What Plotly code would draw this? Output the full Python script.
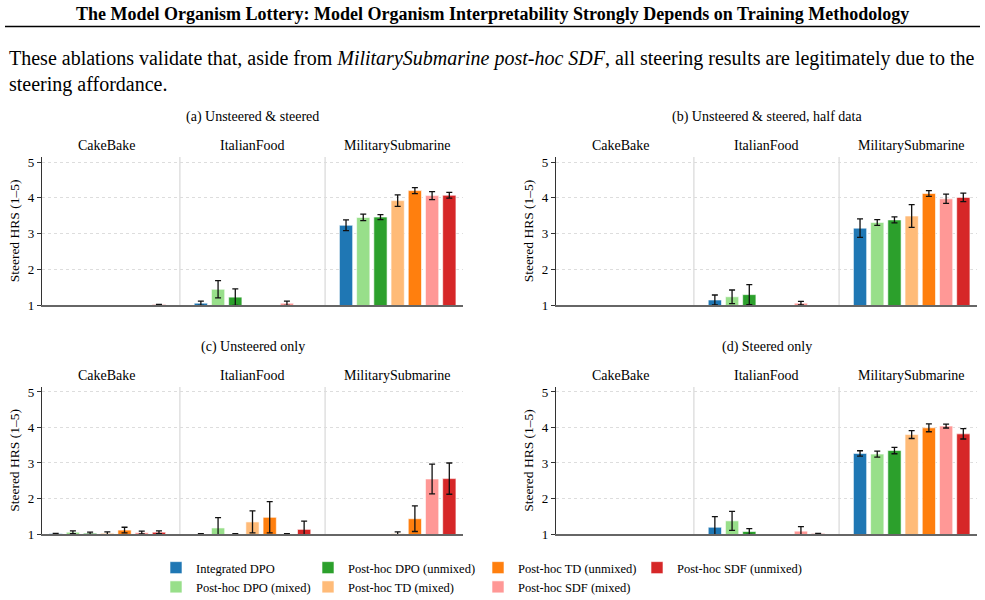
import plotly.graph_objects as go

groups = ["CakeBake", "ItalianFood", "MilitarySubmarine"]
methods = ["Integrated DPO", "Post-hoc DPO (mixed)", "Post-hoc DPO (unmixed)",
           "Post-hoc TD (mixed)", "Post-hoc TD (unmixed)",
           "Post-hoc SDF (mixed)", "Post-hoc SDF (unmixed)"]
colors = ["#1f77b4", "#98df8a", "#2ca02c", "#ffbb78", "#ff7f0e", "#ff9896", "#d62728"]
panel_titles = ["(a) Unsteered & steered", "(b) Unsteered & steered, half data",
                "(c) Unsteered only", "(d) Steered only"]
ytick_vals = [1, 2, 3, 4, 5]

# values per method: [CakeBake, ItalianFood, MilitarySubmarine]
a_vals = [[None, 1.05, 3.23], [None, 1.44, 3.45], [None, 1.22, 3.46], [None, None, 3.92],
          [None, None, 4.20], [None, 1.05, 4.06], [1.01, None, 4.07]]
a_errs = [[None, 0.06, 0.15], [None, 0.24, 0.09], [None, 0.23, 0.07], [None, None, 0.16],
          [None, None, 0.085], [None, 0.06, 0.11], [0.01, None, 0.08]]

b_vals = [[None, 1.14, 3.15], [None, 1.23, 3.31], [None, 1.29, 3.38], [None, None, 3.49],
          [None, None, 4.12], [None, 1.05, 3.97], [None, None, 4.01]]
b_errs = [[None, 0.14, 0.26], [None, 0.19, 0.08], [None, 0.28, 0.085], [None, None, 0.32],
          [None, None, 0.08], [None, 0.05, 0.13], [None, None, 0.12]]

c_vals = [[1.01, 1.0, None], [1.05, 1.17, None], [1.02, 1.0, None], [1.02, 1.34, 1.01],
          [1.11, 1.47, 1.43], [1.04, 1.0, 2.55], [1.05, 1.13, 2.56]]
c_errs = [[0.01, 0.01, None], [0.04, 0.29, None], [0.03, 0.01, None], [0.04, 0.31, 0.05],
          [0.08, 0.44, 0.36], [0.04, 0.01, 0.42], [0.04, 0.23, 0.44]]

d_vals = [[None, 1.19, 3.27], [None, 1.37, 3.25], [None, 1.07, 3.35], [None, None, 3.80],
          [None, None, 3.99], [None, 1.08, 4.04], [None, 1.01, 3.82]]
d_errs = [[None, 0.30, 0.075], [None, 0.27, 0.085], [None, 0.08, 0.09], [None, None, 0.11],
          [None, None, 0.11], [None, 0.13, 0.055], [None, 0.01, 0.145]]

panels_vals = [a_vals, b_vals, c_vals, d_vals]
panels_errs = [a_errs, b_errs, c_errs, d_errs]

W, H = 985, 600
FONT = "Liberation Serif, Times New Roman, serif"

def px_x(v):
    return v / W

def px_y(v):
    return 1 - v / H

# panel pixel boxes (left, right, top, bottom)
boxes = [(42, 463, 157, 305), (556, 977, 157, 305), (42, 463, 387, 534), (556, 977, 387, 534)]

fig = go.Figure()
layout = dict(
    width=W, height=H, margin=dict(l=0, r=0, t=0, b=0, autoexpand=False),
    paper_bgcolor="white", plot_bgcolor="white",
    font=dict(family=FONT, size=12, color="black"),
    barmode="group", bargap=0.17, bargroupgap=0.23,
)

legend_names = ["legend", "legend2", "legend3", "legend4"]
legend_of_method = ["legend", "legend", "legend2", "legend2", "legend3", "legend3", "legend4"]
legend_x = [156, 308, 478, 637]

annotations = []
shapes = []
for p in range(4):
    sfx = "" if p == 0 else str(p + 1)
    xa, ya = "x" + sfx, "y" + sfx
    l, r, t, b = boxes[p]
    for m in range(7):
        fig.add_trace(go.Bar(
            x=groups, y=panels_vals[p][m], name=methods[m],
            marker=dict(color=colors[m], line=dict(color="white", width=0.6)),
            error_y=dict(type="data", array=panels_errs[p][m], color="#111111",
                         thickness=1.3, width=3),
            xaxis=xa, yaxis=ya, showlegend=(p == 0), legendgroup=methods[m],
            legend=legend_of_method[m],
        ))
    layout["xaxis" + sfx] = dict(
        domain=[px_x(l), px_x(r)], anchor=ya, type="category",
        range=[-0.45, 2.45], showticklabels=False, ticks="", showgrid=False,
        showline=True, linecolor="#666666", linewidth=2, zeroline=False,
    )
    layout["yaxis" + sfx] = dict(
        domain=[px_y(b), px_y(t)], anchor=xa, range=[1, 5.14],
        tickvals=ytick_vals, ticks="outside", ticklen=4, tickcolor="#333333",
        tickfont=dict(size=13, family=FONT), showline=True, linecolor="#333333",
        linewidth=1.2, showgrid=True, gridcolor="#dddddd", griddash="dot",
        gridwidth=1, zeroline=False,
        title=dict(text="Steered HRS (1–5)", font=dict(size=13.5, family=FONT), standoff=5),
    )
    # separators
    for sx in [0.5, 1.5]:
        shapes.append(dict(type="line", xref=xa, yref=ya + " domain", x0=sx, x1=sx, y0=0, y1=1,
                           line=dict(color="#d0d0d0", width=1), layer="below"))
    # group labels
    for g in groups:
        annotations.append(dict(text=g, xref=xa, yref="paper", x=g, y=px_y(t - 12),
                                showarrow=False, font=dict(size=14, family=FONT),
                                xanchor="center", yanchor="middle"))
    # panel titles
    annotations.append(dict(text=panel_titles[p], xref="paper", yref="paper",
                            x=px_x((l + r) / 2), y=px_y(t - 40), showarrow=False,
                            font=dict(size=14, family=FONT), xanchor="center", yanchor="middle"))

# header
annotations.append(dict(
    text="<b>The Model Organism Lottery: Model Organism Interpretability Strongly Depends on Training Methodology</b>",
    xref="paper", yref="paper", x=0.5, y=px_y(14), showarrow=False,
    font=dict(size=18, family=FONT), xanchor="center", yanchor="middle"))
shapes.append(dict(type="line", xref="paper", yref="paper", x0=px_x(5), x1=px_x(980),
                   y0=px_y(26.5), y1=px_y(26.5), line=dict(color="black", width=1.6)))
annotations.append(dict(
    text="These ablations validate that, aside from <i>MilitarySubmarine post-hoc SDF</i>, all steering results are legitimately due to the<br>steering affordance.",
    xref="paper", yref="paper", x=px_x(7), y=px_y(45), showarrow=False, align="left",
    font=dict(size=20, family=FONT), xanchor="left", yanchor="top"))

layout["annotations"] = annotations
layout["shapes"] = shapes
for i, ln in enumerate(legend_names):
    layout[ln] = dict(x=px_x(legend_x[i]), y=px_y(553), xanchor="left", yanchor="top",
                      orientation="v", font=dict(size=12.5, family=FONT),
                      bgcolor="rgba(0,0,0,0)", tracegroupgap=0, itemwidth=30)

fig.update_layout(**layout)
fig.write_html("out.html")
